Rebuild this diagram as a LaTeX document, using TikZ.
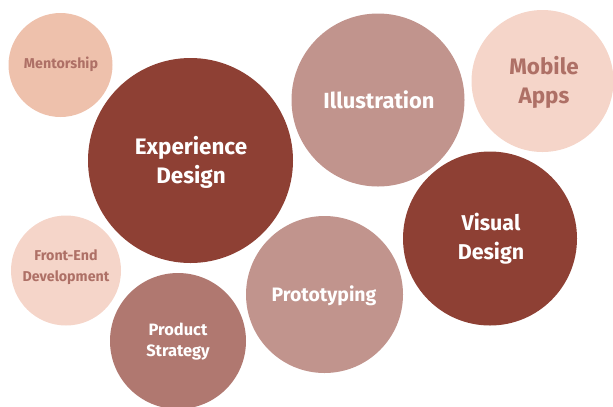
\documentclass[tikz,border=0pt]{standalone}
\usepackage{fontspec}
\setmainfont{Fira Sans}
\definecolor{darkred}{HTML}{8E4034}
\definecolor{dusty}{HTML}{C1948D}
\definecolor{mauve}{HTML}{B07870}
\definecolor{peach}{HTML}{EEC1AC}
\definecolor{blush}{HTML}{F5D5C9}
\definecolor{lighttext}{HTML}{AE7066}
\tikzset{
  bubble/.style={circle, inner sep=0pt, align=center},
}
\begin{document}
\begin{tikzpicture}[x=1bp,y=-1bp]
\useasboundingbox (0,0) rectangle (613,406);
\begin{scope}
\clip (0,0) rectangle (613,406);
\fill[peach] (60.5,65) circle (52);
\fill[darkred] (190.5,160.5) circle (102.5);
\fill[dusty] (378,100) circle (86.5);
\fill[blush] (542.5,81) circle (71);
\fill[darkred] (490,238.5) circle (87);
\fill[blush] (66,270.5) circle (55);
\fill[dusty] (324.5,294.5) circle (78.5);
\fill[mauve] (178,341) circle (68);
\end{scope}
\node[bubble, text=lighttext, font=\bfseries\fontsize{14.3}{17}\selectfont] (mentor) at (61,64) {Mentorship};
\node[bubble, text=white, font=\bfseries\fontsize{22.5}{29}\selectfont] (exp) at (191,162) {Experience\\Design};
\node[bubble, text=white, font=\bfseries\fontsize{22}{26}\selectfont] (ill) at (379,100) {Illustration};
\node[bubble, text=lighttext, font=\bfseries\fontsize{22.5}{29}\selectfont] (mob) at (544,82) {Mobile\\Apps};
\node[bubble, text=white, font=\bfseries\fontsize{21.5}{29}\selectfont] (vis) at (491,239) {Visual\\Design};
\node[bubble, text=lighttext, font=\bfseries\fontsize{14.3}{21}\selectfont] (fe) at (66,267) {Front-End\\Development};
\node[bubble, text=white, font=\bfseries\fontsize{19.5}{22}\selectfont] (proto) at (324,296) {Prototyping};
\node[bubble, text=white, font=\bfseries\fontsize{16.5}{21}\selectfont] (prod) at (178,342) {Product\\Strategy};
\end{tikzpicture}
\end{document}
